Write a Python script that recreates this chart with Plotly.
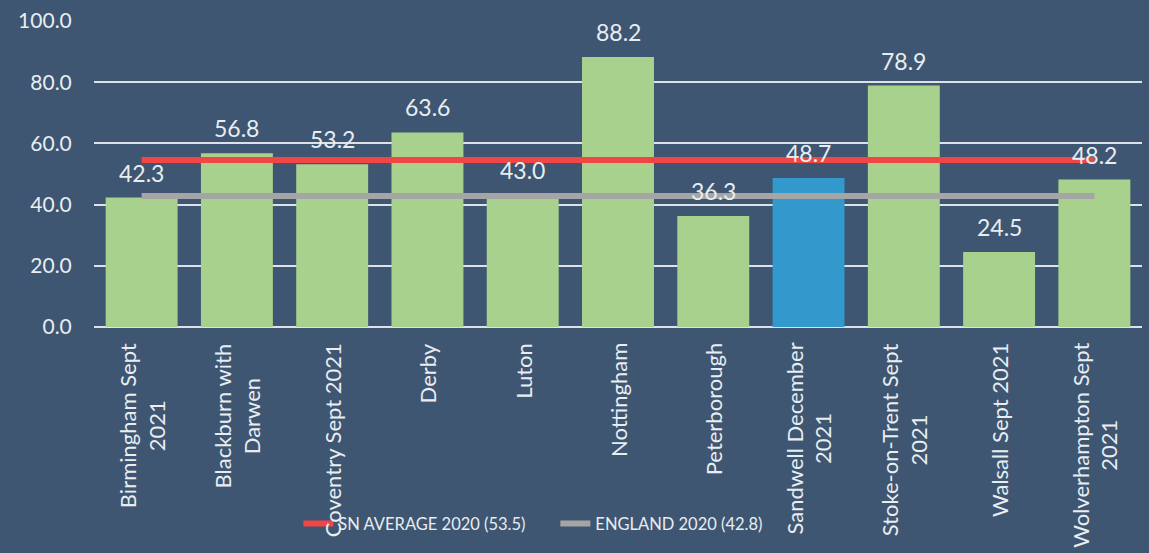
import plotly.graph_objects as go

categories = ["Birmingham Sept<br>2021", "Blackburn with<br>Darwen", "Coventry Sept 2021", "Derby", "Luton",
              "Nottingham", "Peterborough", "Sandwell December<br>2021", "Stoke-on-Trent Sept<br>2021",
              "Walsall Sept 2021", "Wolverhampton Sept<br>2021"]
values = [42.3, 56.8, 53.2, 63.6, 43.0, 88.2, 36.3, 48.7, 78.9, 24.5, 48.2]
bar_colors = ["#A9D18E"] * 7 + ["#3398CB"] + ["#A9D18E"] * 3
sn_average = [54.6] * len(categories)
england = [42.8] * len(categories)
sn_name = "SN AVERAGE 2020 (53.5)"
eng_name = "ENGLAND 2020 (42.8)"
y_ticks = [0, 20, 40, 60, 80, 100]

BG = "#3E5671"
TXT = "#E8EDF1"
FONT = "Lato"

fig = go.Figure()
fig.add_trace(go.Bar(x=categories, y=values, marker=dict(color=bar_colors, line=dict(width=0)),
                     showlegend=False, hoverinfo="skip"))
fig.add_trace(go.Scatter(x=categories, y=sn_average, mode="lines", name=sn_name,
                         line=dict(color="#F44545", width=6)))
fig.add_trace(go.Scatter(x=categories, y=england, mode="lines", name=eng_name,
                         line=dict(color="#A5A5A5", width=6)))

annotations = []
for c, v in zip(categories, values):
    annotations.append(dict(x=c, y=v, xref="x", yref="y", text=f"{v:.1f}", showarrow=False,
                            yanchor="middle", yshift=25, font=dict(family=FONT, size=23, color=TXT)))
    annotations.append(dict(x=c, y=0, xref="x", yref="paper", text=c, showarrow=False,
                            textangle=-90, yanchor="top", xanchor="center", yshift=-14, align="center",
                            font=dict(family=FONT, size=22, color=TXT)))

fig.update_layout(
    width=1149, height=553,
    paper_bgcolor=BG, plot_bgcolor=BG,
    margin=dict(l=94, r=7, t=18, b=226),
    bargap=0.245,
    font=dict(family=FONT, size=21, color=TXT),
    showlegend=True,
    legend=dict(orientation="h", x=0.195, xanchor="left", y=-0.643, yanchor="middle",
                bgcolor="rgba(0,0,0,0)", font=dict(family=FONT, size=16.5, color=TXT),
                entrywidth=212, tracegroupgap=0),
    annotations=annotations,
)
fig.update_xaxes(showticklabels=False, showgrid=False, zeroline=False, showline=False,
                 range=[-0.5, len(categories) - 0.5])
fig.update_yaxes(range=[0, 100], tickvals=y_ticks, tickformat=".1f", showgrid=True,
                 gridcolor="#DCE2E8", gridwidth=2, zeroline=True, zerolinecolor="#DCE2E8",
                 zerolinewidth=2, ticks="outside", ticklen=17, tickcolor=BG,
                 tickfont=dict(family=FONT, size=21, color=TXT))

fig.write_html("out.html", config={"displayModeBar": False},
               post_script="document.body.style.margin='0';document.body.style.background='#3E5671';")
